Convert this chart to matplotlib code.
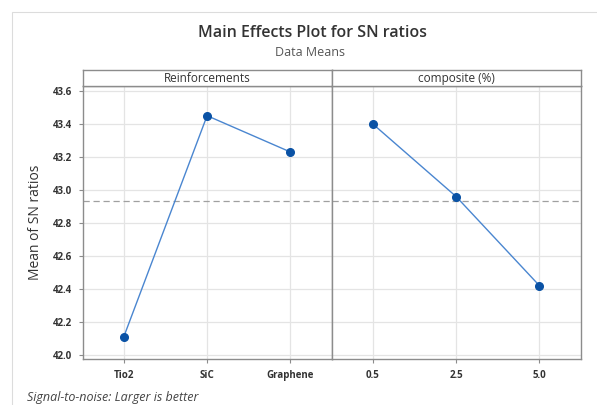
import matplotlib.pyplot as plt
from matplotlib.patches import Rectangle

# main effects data (means of SN ratios)
REINF_LEVELS = ["Tio2", "SiC", "Graphene"]
REINF_MEANS = [42.11, 43.45, 43.23]
COMP_LEVELS = ["0.5", "2.5", "5.0"]
COMP_MEANS = [43.40, 42.96, 42.42]
GRAND_MEAN = 42.93
Y_TICKS = [42.0, 42.2, 42.4, 42.6, 42.8, 43.0, 43.2, 43.4, 43.6]

LINE, MARK, GRID, SPINE, INK = "#4a86d0", "#0a52a5", "#e4e4e4", "#8c8c8c", "#333333"
plt.rcParams["font.family"] = ["Open Sans", "DejaVu Sans"]

fig = plt.figure(figsize=(5.97, 4.05), dpi=100, facecolor="white")
W, H = 597, 405


def fx(px):
    return px / W


def fy(py):
    return 1 - py / H


# outer light frame
fig.patches.append(Rectangle((fx(12), fy(420)), fx(600), fy(12) - fy(420),
                             transform=fig.transFigure, fill=False,
                             edgecolor="#dcdcdc", linewidth=0.8))

left, split, right, top, bottom, strip_top = 83, 332, 581, 86, 359, 70
panels = [
    (left, split, REINF_LEVELS, REINF_MEANS, "Reinforcements"),
    (split, right, COMP_LEVELS, COMP_MEANS, "composite (%)"),
]
for i, (x0, x1, levels, means, name) in enumerate(panels):
    ax = fig.add_axes([fx(x0), fy(bottom), fx(x1 - x0), fy(top) - fy(bottom)])
    pos = list(range(len(levels)))
    ax.plot(pos, means, color=LINE, linewidth=1.0, zorder=3)
    ax.plot(pos, means, "o", color=MARK, markersize=5.5, zorder=4)
    ax.axhline(GRAND_MEAN, color="#a0a0a0", linestyle=(0, (5, 3)), linewidth=0.9, zorder=2)
    ax.set_xlim(-0.49, 2.5)
    ax.set_ylim(41.975, 43.63)
    ax.set_xticks(pos)
    ax.set_xticklabels(levels, fontsize=7, fontweight="bold", color=INK)
    ax.set_yticks(Y_TICKS)
    ax.grid(color=GRID, linewidth=0.9)
    ax.set_axisbelow(True)
    for s in ax.spines.values():
        s.set_color(SPINE)
        s.set_linewidth(1.0)
    ax.tick_params(axis="both", colors=SPINE, length=3, labelcolor=INK, pad=5)
    if i == 0:
        ax.set_yticklabels([f"{t:.1f}" for t in Y_TICKS], fontsize=7, fontweight="bold")
        ax.set_ylabel("Mean of SN ratios", fontsize=10, color=INK)
        ax.yaxis.set_label_coords(-(x0 - 43) / (x1 - x0), 0.5)
    else:
        ax.tick_params(axis="y", left=False, labelleft=False)
    # facet strip
    sax = fig.add_axes([fx(x0), fy(top), fx(x1 - x0), fy(strip_top) - fy(top)])
    sax.set_xticks([])
    sax.set_yticks([])
    for s in sax.spines.values():
        s.set_color(SPINE)
        s.set_linewidth(1.0)
    sax.text(0.5, 0.45, name, ha="center", va="center", fontsize=8.5, color=INK,
             transform=sax.transAxes)

fig.text(fx(312), fy(33), "Main Effects Plot for SN ratios", ha="center", va="center",
         fontsize=11.5, fontweight="semibold", color="#333333")
fig.text(fx(310), fy(52), "Data Means", ha="center", va="center", fontsize=9,
         color="#555555")
fig.text(fx(27), fy(398), "Signal-to-noise: Larger is better", ha="left", va="center",
         fontsize=9, style="italic", color="#444444")

fig.savefig("out.png", dpi=100, facecolor="white")
